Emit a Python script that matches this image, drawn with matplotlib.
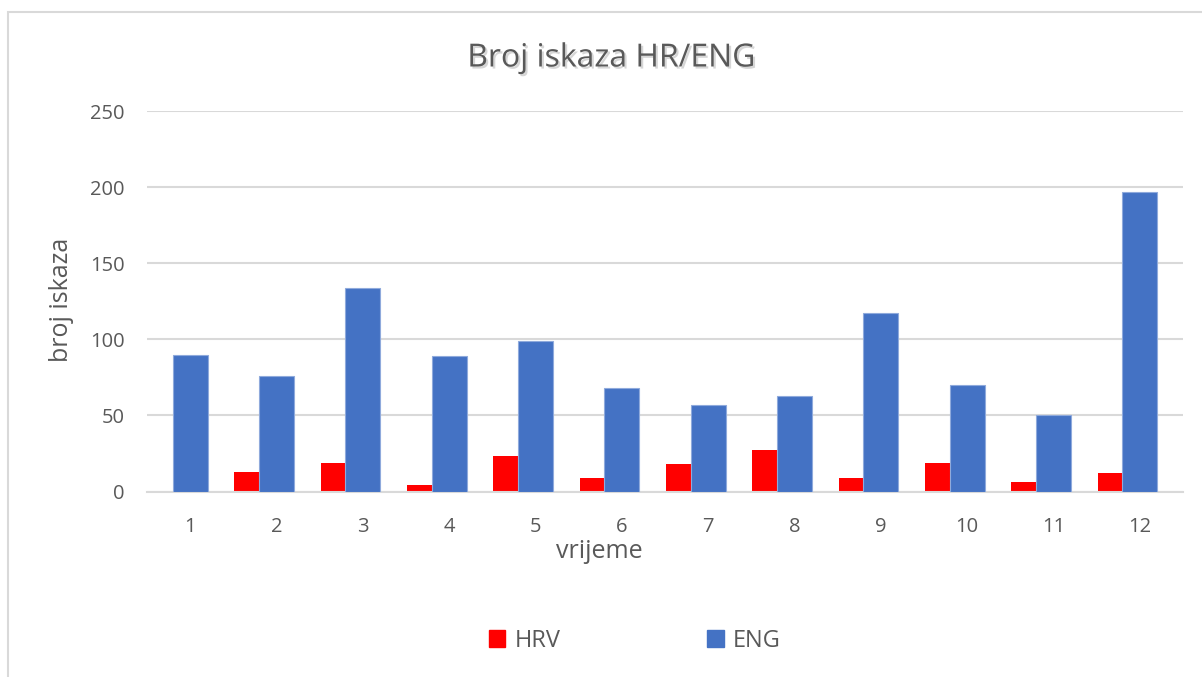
import matplotlib
matplotlib.use('Agg')
import matplotlib.pyplot as plt
import matplotlib.patheffects as pe
from matplotlib.patches import Patch, Rectangle
import numpy as np

plt.rcParams['font.family'] = ['Open Sans', 'DejaVu Sans']

# data
categories = ['1', '2', '3', '4', '5', '6', '7', '8', '9', '10', '11', '12']
hrv = [0, 13, 19, 4, 23, 9, 18, 27, 9, 19, 6, 12]
eng = [90, 76, 134, 89, 99, 68, 57, 63, 117, 70, 50, 197]
yticks = [0, 50, 100, 150, 200, 250]

txt = '#595959'
grid = '#d9d9d9'

fig = plt.figure(figsize=(12.02, 6.77), dpi=100)
ax = fig.add_axes([0.1223, 0.274, 0.8619, 0.562])

# outer chart border
fig.patches.append(Rectangle((8 / 1202, -0.05), 1.1, 0.982 + 0.05, transform=fig.transFigure,
                             fill=False, edgecolor=grid, lw=1.5))

x = np.arange(1, len(categories) + 1)
ax.bar(x - 0.49, hrv, width=0.30, align='edge', color='#ff0000', zorder=2)
ax.bar(x, eng, width=0.405, color='#4472c4', edgecolor='#8faadc', lw=0.8, zorder=3)

ax.set_xlim(0.5, 12.5)
ax.set_ylim(0, 250)
ax.set_yticks(yticks)
ax.set_xticks(x)
ax.set_xticklabels(categories)
ax.yaxis.grid(True, color=grid, lw=1.5, zorder=0)
ax.set_axisbelow(True)
for s in ['top', 'right', 'left']:
    ax.spines[s].set_visible(False)
ax.spines['bottom'].set_color(grid)
ax.spines['bottom'].set_linewidth(1.5)
ax.tick_params(axis='both', length=0, labelsize=14.5, labelcolor=txt)
ax.tick_params(axis='y', pad=16)
ax.tick_params(axis='x', pad=18)

fig.text(612 / 1202, 1 - 58 / 677, 'Broj iskaza HR/ENG', ha='center', va='center',
         fontsize=23, color=txt,
         path_effects=[pe.withSimplePatchShadow(offset=(1.5, -1.5), shadow_rgbFace='#bbbbbb', alpha=0.6)])
fig.text(62 / 1202, 1 - 300 / 677, 'broj iskaza', rotation=90, ha='center', va='center',
         fontsize=18, color=txt)
fig.text(599 / 1202, 1 - 551 / 677, 'vrijeme', ha='center', va='center',
         fontsize=18, color=txt)

handles = [Patch(color='#ff0000', label='HRV'), Patch(color='#4472c4', label='ENG')]
fig.legend(handles=handles, loc='center', bbox_to_anchor=(635 / 1202, 1 - 641 / 677), ncol=2,
           frameon=False, fontsize=17, labelcolor=txt, handlelength=0.7, handleheight=0.7,
           handletextpad=0.4, columnspacing=6.2)

fig.savefig('out.png', dpi=100)
